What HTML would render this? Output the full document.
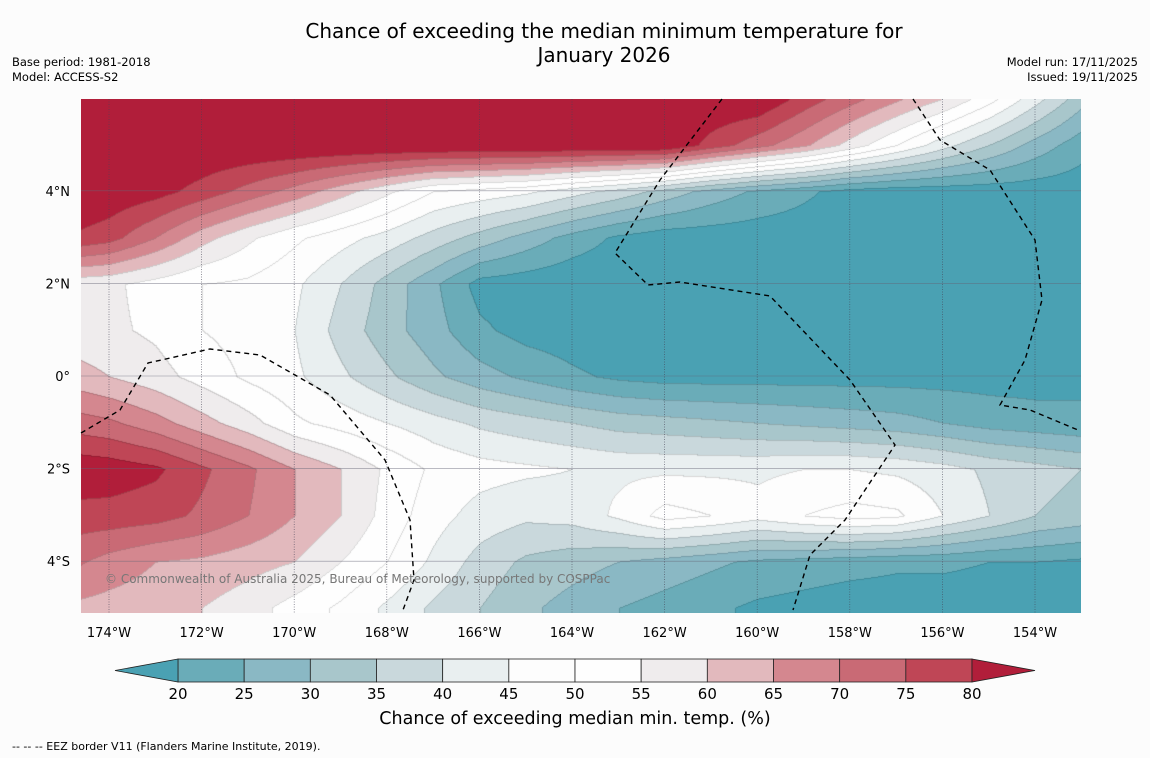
<!DOCTYPE html>
<html><head><meta charset="utf-8"><style>
body{margin:0;background:#fcfcfc;font-family:"DejaVu Sans","Liberation Sans",sans-serif;}
#wrap{position:relative;width:1150px;height:758px;overflow:hidden;background:#fcfcfc;}
.t{position:absolute;white-space:nowrap;color:#000;}
</style></head><body>
<div id="wrap">
<div class="t" style="left:0;width:1208px;top:19px;text-align:center;font-size:20px;line-height:24px;">Chance of exceeding the median minimum temperature for<br>January 2026</div>
<div class="t" style="left:12px;top:55px;font-size:11.5px;line-height:15px;">Base period: 1981-2018<br>Model: ACCESS-S2</div>
<div class="t" style="right:12px;top:55px;font-size:11.5px;line-height:15px;text-align:right;">Model run: 17/11/2025<br>Issued: 19/11/2025</div>
<canvas id="map" width="1000" height="514" style="position:absolute;left:81px;top:99px;"></canvas>
<svg id="ov" width="1150" height="758" style="position:absolute;left:0;top:0;"></svg>
<div class="t" style="left:105px;top:572px;font-size:12px;color:#777;">© Commonwealth of Australia 2025, Bureau of Meteorology, supported by COSPPac</div>
<div class="t" style="left:0;width:1150px;text-align:center;top:709px;font-size:17.5px;">Chance of exceeding median min. temp. (%)</div>
<div class="t" style="left:12px;top:740px;font-size:11px;">--  --  -- EEZ border V11 (Flanders Marine Institute, 2019).</div>
</div>
<script>
const lons=[-175,-174,-173,-172,-171,-170,-169,-168,-167,-166,-165,-164,-163,-162,-161,-160,-159,-158,-157,-156,-155,-154,-153];
const lats=[6,5,4,3,2,1,0,-1,-2,-3,-4,-5];
const row6=[85,85,85,85,85,85,85,85,85,85,85,85,85,85,85,85,78,72,66,60,52,42,32];
const row5=[85,85,85,85,85,85,85,85,85,85,85,85,85,85,78,72,66,58,50,42,35,28,22];
const row4=[86,84,82,78,73,68,62,56,50,48,46,42,38,33,28,24,21,18,17,17,17,17,17];
const row3=[80,77,70,62,56,51,47,43,38,33,28,23,19,17,17,17,17,17,17,17,17,17,17];
const row2=[57,56,53,50,49,46,40,33,26,18,17,16,16,16,16,16,16,16,16,16,16,16,16];
const row1=[57,56,54,50,48,45,38,32,27,21,18,17,16,16,16,16,16,16,16,16,16,16,16];
const row0=[63,60,57,53,49,46,41,36,31,27,24,21,19,18,18,18,18,18,18,18,18,18,19];
const rowS1=[73,71,67,62,57,51,48,45,42,39,37,35,33,32,31,30,29,28,27,25,23,22,21];
const rowS2=[84,83,81,76,71,65,60,54,49,47,46,45,44,44,44,44,45,45,44,42,39,37,35];
const rowS3=[78,78,77,74,70,65,60,53,47,43,41,42,46,52,50,47,50,52,51,45,40,35,33];
const rowS4=[72,68,65,64,62,60,55,50,44,38,34,32,30,28,26,24,23,22,21,21,20,20,19];
const rowS5=[64,63,62,60,57,53,49,44,39,35,31,28,25,23,21,19,18,17,17,17,17,17,17];
const grid=[row6,row5,row4,row3,row2,row1,row0,rowS1,rowS2,rowS3,rowS4,rowS5];
const levels=[20,25,30,35,40,45,50,55,60,65,70,75,80];
const colors=["#4aa1b3","#6aacb8","#8ab8c4","#a8c6cb","#c9d8dc","#e9eff0","#fdfdfd","#fefefe","#efeced","#e2b9bd","#d4878f","#c96a75","#bf4656","#b11e3a"];
const X0=109,PX=46.3,Y0=376;
const xs=lon=>X0+(lon+174)*PX, ys=lat=>Y0-lat*PX;
const cv=document.getElementById('map'),ctx=cv.getContext('2d');
const W=1000,H=514,img=ctx.createImageData(W,H);
function val(lon,lat){
 let fi=(lon-lons[0]);fi=Math.max(0,Math.min(lons.length-1.0001,fi));
 let fj=(lats[0]-lat);fj=Math.max(0,Math.min(lats.length-1.0001,fj));
 const i=Math.floor(fi),j=Math.floor(fj),a=fi-i,b=fj-j;
 return grid[j][i]*(1-a)*(1-b)+grid[j][i+1]*a*(1-b)+grid[j+1][i]*(1-a)*b+grid[j+1][i+1]*a*b;
}
function band(v){let k=0;while(k<levels.length&&v>=levels[k])k++;return k;}
const bands=new Int8Array(W*H);
for(let y=0;y<H;y++)for(let x=0;x<W;x++){
 const lon=(x+81-X0)/PX-174,lat=(Y0-(y+99))/PX;
 bands[y*W+x]=band(val(lon,lat));
}
function hex(c){return [parseInt(c.substr(1,2),16),parseInt(c.substr(3,2),16),parseInt(c.substr(5,2),16)];}
const rgb=colors.map(hex);
for(let y=0;y<H;y++)for(let x=0;x<W;x++){
 const b=bands[y*W+x];let c=rgb[b];
 const edge=(x>0&&bands[y*W+x-1]!==b)||(y>0&&bands[(y-1)*W+x]!==b);
 const p=(y*W+x)*4;
 if(edge){img.data[p]=c[0]*0.85;img.data[p+1]=c[1]*0.85;img.data[p+2]=c[2]*0.85;}
 else{img.data[p]=c[0];img.data[p+1]=c[1];img.data[p+2]=c[2];}
 img.data[p+3]=255;
}
ctx.putImageData(img,0,0);
const NS='http://www.w3.org/2000/svg',ov=document.getElementById('ov');
function mk(t,a){const e=document.createElementNS(NS,t);for(const k in a)e.setAttribute(k,a[k]);ov.appendChild(e);return e;}
const lonTicks=[-174,-172,-170,-168,-166,-164,-162,-160,-158,-156,-154];
const latTicks=[4,2,0,-2,-4];
const latLabels=["4°N","2°N","0°","2°S","4°S"];
lonTicks.forEach(l=>{
 const g=mk('line',{x1:xs(l),x2:xs(l),y1:99,y2:613,stroke:'#445',"stroke-width":0.7,"stroke-dasharray":'1,1.5',opacity:0.8});
 
 
 const t=mk('text',{x:xs(l),y:637,"text-anchor":'middle',"font-size":13,"font-family":'DejaVu Sans, sans-serif'});
 t.textContent=Math.abs(l)+'°W';
 
 
});
latTicks.forEach((l,i)=>{
 const g=mk('line',{x1:81,x2:1081,y1:ys(l),y2:ys(l),stroke:'#667',"stroke-width":0.6,opacity:0.7});
 
 
 const t=mk('text',{x:70,y:ys(l)+5,"text-anchor":'end',"font-size":13,"font-family":'DejaVu Sans, sans-serif'});
 t.textContent=latLabels[i];
 
 
});
const eez=[
 [[722,99],[660,180],[615,253],[648,285],[680,282],[770,296],[850,380],[895,445],[845,520],[810,555],[793,610]],
 [[913,99],[940,140],[990,170],[1035,240],[1042,300],[1025,360],[1000,405],[1030,410],[1078,430]],
 [[81,433],[120,410],[148,363],[210,349],[260,355],[330,395],[385,460],[410,520],[414,580],[403,610]]
];
eez.forEach(p=>{
 const e=mk('polyline',{points:p.map(q=>q.join(',')).join(' '),fill:'none',stroke:'#000',"stroke-width":1.4,"stroke-dasharray":'5,4'});
 
 
});
const cbX=v=>178+(v-20)*(794/60);
for(let k=0;k<levels.length-1;k++){
 const r=mk('rect',{x:cbX(levels[k]),y:659,width:cbX(levels[k+1])-cbX(levels[k]),height:23,fill:colors[k+1],stroke:'#222',"stroke-width":0.8});
 
 
}
const tl=mk('polygon',{points:`178,659 115,670.5 178,682`,fill:colors[0],stroke:'#222',"stroke-width":0.8});


const tr=mk('polygon',{points:`972,659 1035,670.5 972,682`,fill:colors[13],stroke:'#222',"stroke-width":0.8});


levels.forEach(v=>{
 const t=mk('text',{x:cbX(v),y:699,"text-anchor":'middle',"font-size":15,"font-family":'DejaVu Sans, sans-serif'});
 t.textContent=v;
 
 
});
</script>
</body></html>
